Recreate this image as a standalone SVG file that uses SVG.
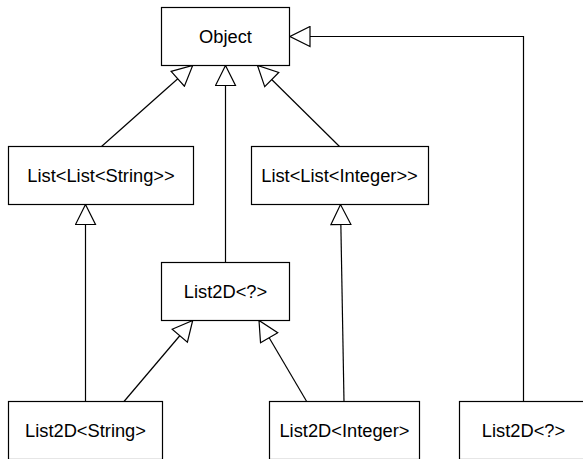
<svg xmlns="http://www.w3.org/2000/svg" width="583" height="459" viewBox="0 0 583 459">
<style>
.box{fill:#fff;stroke:#000;stroke-width:1.2}
.lbl{font-family:"Liberation Sans",Arial,sans-serif;font-size:18.3px;fill:#000;text-anchor:middle}
.edge{fill:none;stroke:#000;stroke-width:1.2;marker-end:url(#tri)}
</style>
<defs>
<marker id="tri" viewBox="-1 -1 22 22" refX="20" refY="10" markerWidth="22" markerHeight="22" markerUnits="userSpaceOnUse" orient="auto">
<path d="M0,0 L20,10 L0,20 Z" fill="#fff" stroke="#000" stroke-width="1.2"/>
</marker>
</defs>
<rect width="583" height="459" fill="#fff"/>
<g id="connectors">
<path class="edge" d="M523.5,401.5 V36.5 H290"/>
<path class="edge" d="M101.5,146.5 L192.7,65.5"/>
<path class="edge" d="M225.5,262.5 V65.5"/>
<path class="edge" d="M339.5,146.5 L257.5,65.5"/>
<path class="edge" d="M85.5,401.5 V204.5"/>
<path class="edge" d="M344,401.5 L340.5,204.5"/>
<path class="edge" d="M124,401.5 L192.7,320.5"/>
<path class="edge" d="M306.7,401.5 L259,320.5"/>
</g>
<g id="object"><rect class="box" x="161.5" y="7.5" width="128" height="58"/><text class="lbl" x="225.5" y="42.8">Object</text></g>
<g id="listListString"><rect class="box" x="8.5" y="146.5" width="185" height="58"/><text class="lbl" x="101" y="181.8">List&lt;List&lt;String&gt;&gt;</text></g>
<g id="listListInteger"><rect class="box" x="251.5" y="146.5" width="177" height="58"/><text class="lbl" x="339.5" y="181.8">List&lt;List&lt;Integer&gt;&gt;</text></g>
<g id="list2DWildMid"><rect class="box" x="161.5" y="262.5" width="128" height="58"/><text class="lbl" x="225.5" y="297.8">List2D&lt;?&gt;</text></g>
<g id="list2DString"><rect class="box" x="8.5" y="401.5" width="154" height="58"/><text class="lbl" x="85.5" y="436.8">List2D&lt;String&gt;</text></g>
<g id="list2DInteger"><rect class="box" x="269.5" y="401.5" width="150" height="58"/><text class="lbl" x="344.5" y="436.8">List2D&lt;Integer&gt;</text></g>
<g id="list2DWildRight"><rect class="box" x="459.5" y="401.5" width="128" height="58"/><text class="lbl" x="523.5" y="436.8">List2D&lt;?&gt;</text></g>
</svg>
